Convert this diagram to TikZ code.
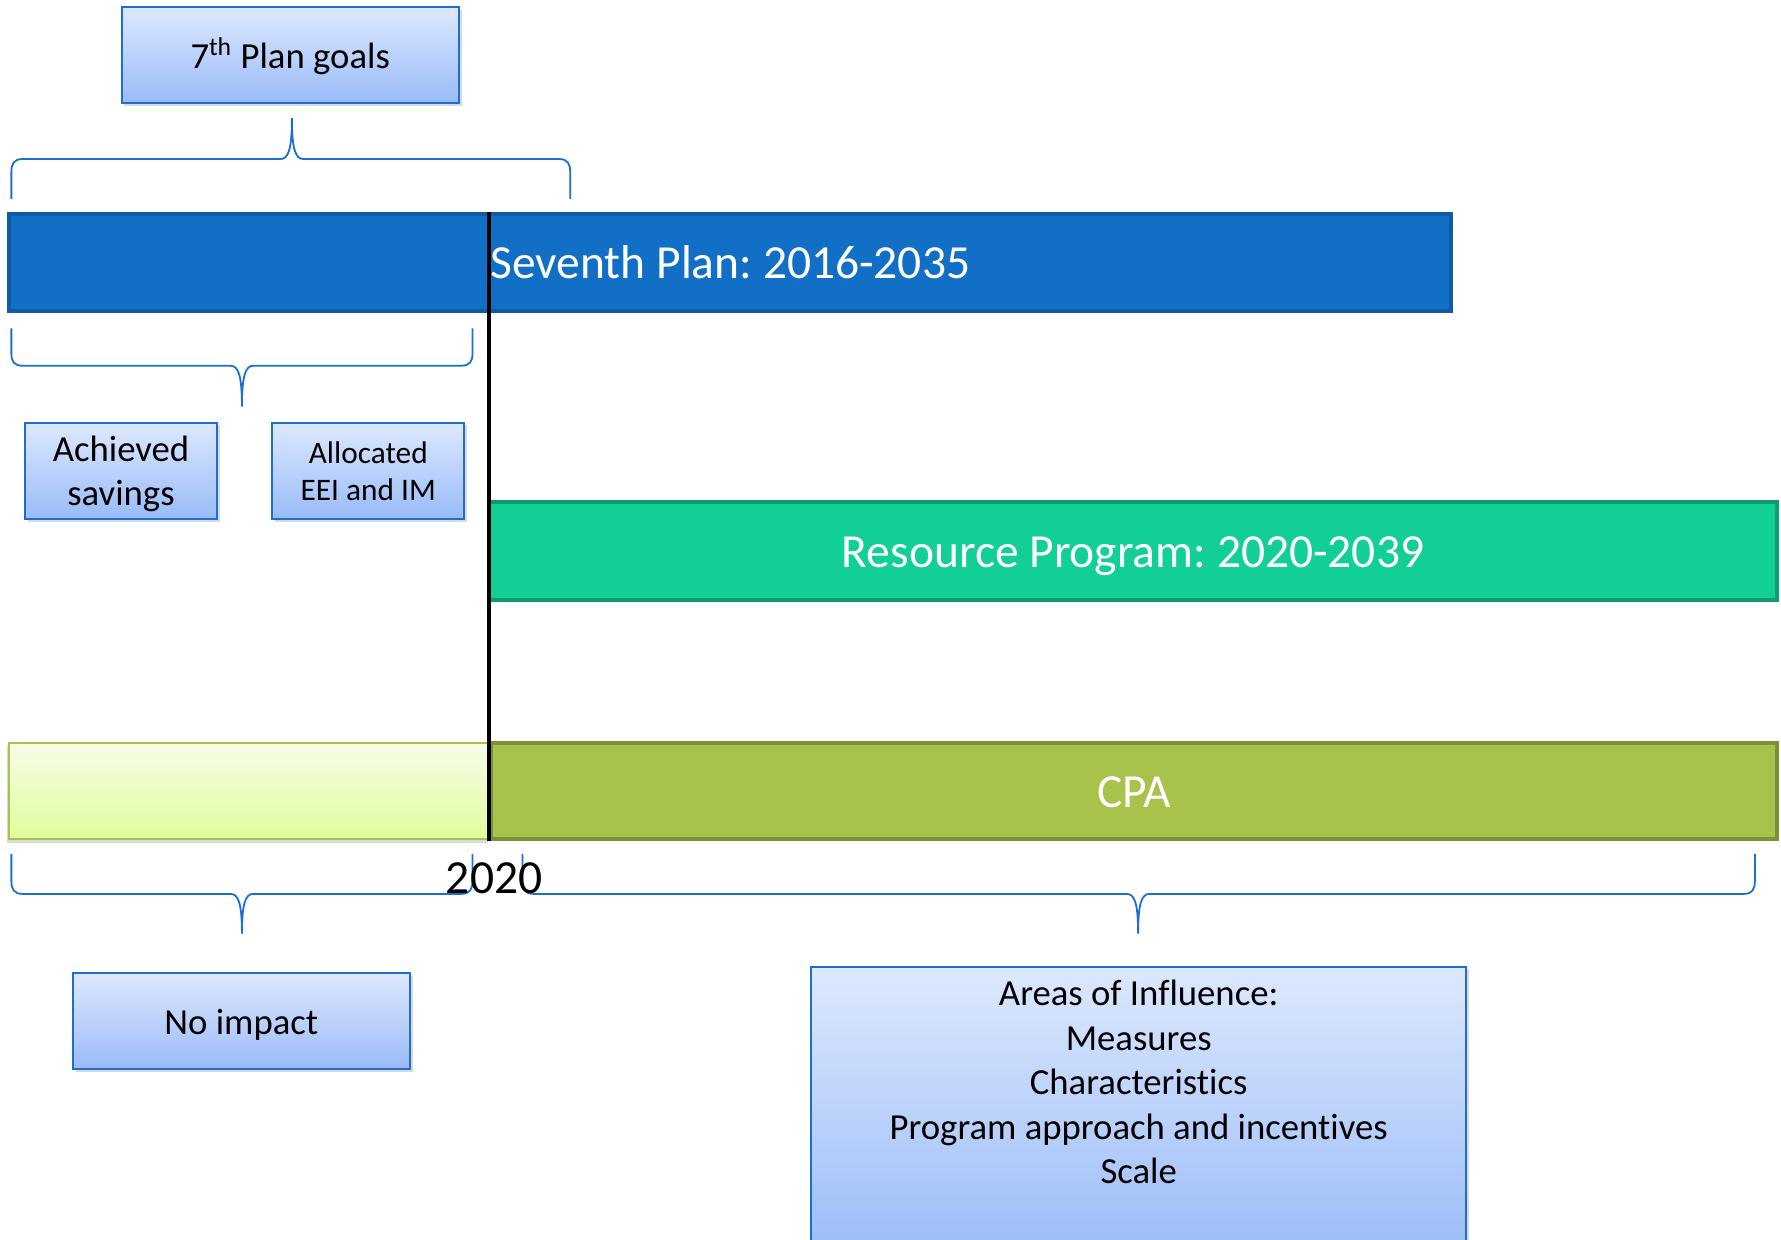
\documentclass[tikz,border=0pt]{standalone}
\usepackage{fontspec}
\setmainfont{Carlito}[Ligatures=NoCommon]
\frenchspacing
\usetikzlibrary{positioning,shadows}
\definecolor{boxblue}{HTML}{1C6FCC}
\definecolor{boxtop}{HTML}{DDE8FD}
\definecolor{boxbottom}{HTML}{99BBF8}
\definecolor{planblue}{HTML}{1170C6}
\definecolor{planedge}{HTML}{0F5AA3}
\definecolor{rpgreen}{HTML}{12CF98}
\definecolor{rpedge}{HTML}{0E9B70}
\definecolor{cpagreen}{HTML}{A7C34B}
\definecolor{cpaedge}{HTML}{7B9139}
\definecolor{cpatop}{HTML}{F7FCE8}
\definecolor{cpabottom}{HTML}{DEFD9B}

% curly bracket: x-left, x-right, x-tip, y-ends, y-middle, y-tip
\newcommand{\curly}[6]{%
  \draw[bracket] (#1,#4) -- (#1,{#5+(#4-#5)/3})
    .. controls (#1,{#5+(#4-#5)/8}) and ({#1+2},#5) .. ({#1+10},#5)
    -- ({#3-10},#5) .. controls ({#3-3},#5) and (#3,{#5+(#6-#5)/4}) .. (#3,#6)
    .. controls (#3,{#5+(#6-#5)/4}) and ({#3+3},#5) .. ({#3+10},#5)
    -- ({#2-10},#5) .. controls ({#2-2},#5) and (#2,{#5+(#4-#5)/8}) .. (#2,{#5+(#4-#5)/3})
    -- (#2,#4);}

\tikzset{
  bigtext/.style={font=\fontsize{23.8}{28}\selectfont},
  goalbox/.style={draw=boxblue, line width=1pt, top color=boxtop, bottom color=boxbottom,
    drop shadow={shadow xshift=0.05cm, shadow yshift=-0.05cm, opacity=0.3},
    font=\fontsize{18.4}{22.2}\selectfont, align=center, inner sep=0pt,
    text height=15pt, text depth=2pt},
  planbar/.style={bigtext, line width=2pt, text=white, minimum height=1.72cm, inner sep=0pt,
    text height=20pt, text depth=3.6pt},
  bracket/.style={draw=boxblue, line width=0.9pt},
  yearline/.style={draw=black, line width=1.7pt}
}

\begin{document}
\begin{tikzpicture}[x=0.02cm, y=-0.02cm]
  \useasboundingbox (0,0) rectangle (1568,1091);
  \clip (0,0) rectangle (1568,1091);

  % goals on top of the plan
  \node[goalbox, minimum width=5.94cm, minimum height=1.70cm] (goals) at (255.5,48.5)
    {7\textsuperscript{th} Plan goals};
  \curly{10}{502}{257}{175}{140}{104}

  % the three time bars
  \node[planbar, fill=planblue, draw=planedge, minimum width=25.4cm] (seventh) at (643,231)
    {Seventh Plan: 2016-2035};
  \curly{10}{416}{213}{289}{322}{358}
  \node[goalbox, minimum width=3.38cm, minimum height=1.70cm,
    text height=38.7pt, text depth=3.7pt] (achieved) at (106.5,414.5)
    {Achieved\\savings};
  \node[goalbox, right=0.94cm of achieved, minimum width=3.38cm, minimum height=1.70cm,
    font=\fontsize{15.7}{18.7}\selectfont, text height=32pt, text depth=2pt]
    (allocated) {Allocated\\EEI and IM};

  \node[planbar, fill=rpgreen, draw=rpedge, minimum width=22.7cm] (resource) at (997.5,485)
    {Resource Program: 2020-2039};

  \node[draw=cpagreen, line width=1pt, top color=cpatop, bottom color=cpabottom,
    drop shadow={shadow xshift=-0.04cm, shadow yshift=-0.06cm, opacity=0.3},
    minimum width=8.48cm, minimum height=1.70cm, inner sep=0pt] (early) at (220,696.5) {};
  \node[planbar, fill=cpagreen, draw=cpaedge, minimum width=22.66cm, minimum height=1.70cm]
    (cpa) at (998.5,696.5) {CPA};

  \draw[yearline] (seventh.north -| cpa.west) -- (cpa.south west);

  % split at 2020
  \curly{10}{416}{213}{752}{787}{822}
  \curly{460}{1545}{1002}{752}{787}{822}
  \node[bigtext, inner sep=0pt] (year) at (435,773) {2020};

  \node[goalbox, minimum width=5.94cm, minimum height=1.68cm] (noimpact) at (212.5,899)
    {No impact};
  \node[goalbox, minimum width=11.54cm, minimum height=5.18cm] (areas) at (1002.5,980.5) {};
  \node[below=0.25cm of areas.north, inner sep=0pt, align=center,
    font=\fontsize{18.4}{22.3}\selectfont] (arealist)
    {Areas of Influence:\\Measures\\Characteristics\\Program approach and incentives\\Scale};
\end{tikzpicture}
\end{document}
